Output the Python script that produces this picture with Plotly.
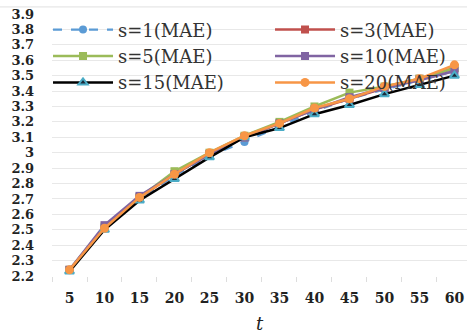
import plotly.graph_objects as go

t = [5, 10, 15, 20, 25, 30, 35, 40, 45, 50, 55, 60]
s1 = [2.24, 2.51, 2.70, 2.85, 2.98, 3.07, 3.17, 3.27, 3.35, 3.41, 3.47, 3.53]
s3 = [2.24, 2.51, 2.71, 2.86, 2.99, 3.10, 3.19, 3.28, 3.35, 3.42, 3.48, 3.55]
s5 = [2.24, 2.52, 2.71, 2.88, 3.00, 3.11, 3.20, 3.30, 3.39, 3.43, 3.48, 3.55]
s10 = [2.24, 2.53, 2.72, 2.86, 2.99, 3.10, 3.19, 3.28, 3.36, 3.42, 3.47, 3.53]
s15 = [2.23, 2.50, 2.69, 2.83, 2.97, 3.10, 3.16, 3.25, 3.31, 3.38, 3.44, 3.50]
s20 = [2.24, 2.51, 2.71, 2.86, 3.00, 3.11, 3.19, 3.29, 3.35, 3.43, 3.48, 3.57]

names = ["s=1(MAE)", "s=3(MAE)", "s=5(MAE)", "s=10(MAE)", "s=15(MAE)", "s=20(MAE)"]
yticks = [round(2.2 + 0.1 * i, 1) for i in range(18)]
ytext = ["3" if abs(v - 3.0) < 1e-9 else f"{v:.1f}" for v in yticks]

SERIF = "DejaVu Serif"
LW_LEFT = 147   # legend entry width, left column
LW_RIGHT = 110  # legend entry width, right column

fig = go.Figure()
fig.add_trace(go.Scatter(x=t, y=s1, name=names[0], mode="lines+markers", legendwidth=LW_LEFT,
                         line=dict(color="#5B9BD5", width=2.2, dash="dash"),
                         marker=dict(symbol="circle", size=8, color="#5B9BD5")))
fig.add_trace(go.Scatter(x=t, y=s3, name=names[1], mode="lines+markers", legendwidth=LW_RIGHT,
                         line=dict(color="#C0504D", width=2.5),
                         marker=dict(symbol="square", size=8, color="#C0504D")))
fig.add_trace(go.Scatter(x=t, y=s5, name=names[2], mode="lines+markers", legendwidth=LW_LEFT,
                         line=dict(color="#9BBB59", width=2.5),
                         marker=dict(symbol="square", size=8, color="#9BBB59")))
fig.add_trace(go.Scatter(x=t, y=s10, name=names[3], mode="lines+markers", legendwidth=LW_RIGHT,
                         line=dict(color="#8064A2", width=2.5),
                         marker=dict(symbol="square", size=8, color="#8064A2")))
fig.add_trace(go.Scatter(x=t, y=s15, name=names[4], mode="lines+markers", legendwidth=LW_LEFT,
                         line=dict(color="#000000", width=2.5),
                         marker=dict(symbol="triangle-up", size=8, color="#1a2a3a",
                                     line=dict(color="#4BACC6", width=2))))
fig.add_trace(go.Scatter(x=t, y=s20, name=names[5], mode="lines+markers", legendwidth=LW_RIGHT,
                         line=dict(color="#F79646", width=2.5),
                         marker=dict(symbol="circle", size=9, color="#F79646")))

fig.update_layout(
    width=467, height=334,
    margin=dict(l=52, r=0, t=14, b=58),
    paper_bgcolor="white", plot_bgcolor="white",
    font=dict(family=SERIF, color="#222222"),
    legend=dict(orientation="h", x=-0.0096, y=1.01, xanchor="left", yanchor="top",
                entrywidthmode="pixels", itemwidth=60,
                bgcolor="rgba(0,0,0,0)", font=dict(size=18, family=SERIF, color="#333333"),
                tracegroupgap=0),
    xaxis=dict(range=[2.5, 61.79], tickmode="array", tickvals=t,
               ticktext=[str(v) for v in t], showgrid=False, zeroline=False,
               showline=False, ticks="", ticklabelstandoff=12,
               tickfont=dict(size=14, family=SERIF, color="#222222", weight="bold"),
               minor=dict(tickmode="linear", tick0=2.5, dtick=5, ticks="outside",
                          ticklen=5, tickcolor="#dddddd", showgrid=False),
               title=dict(text="<i>t</i>", font=dict(size=18, family=SERIF), standoff=15)),
    yaxis=dict(range=[2.2, 3.9], tickmode="array", tickvals=yticks, ticktext=ytext,
               showgrid=True, gridcolor="#e8e8e8", gridwidth=1, zeroline=False,
               showline=False, ticks="", ticklabelstandoff=17,
               tickfont=dict(size=13, family=SERIF, color="#222222", weight="bold")),
    shapes=[dict(type="line", xref="paper", yref="paper", x0=-0.2, x1=1.0, y0=1.027, y1=1.027,
                 line=dict(color="#e0e0e0", width=1))],
)

fig.write_html("out.html")
